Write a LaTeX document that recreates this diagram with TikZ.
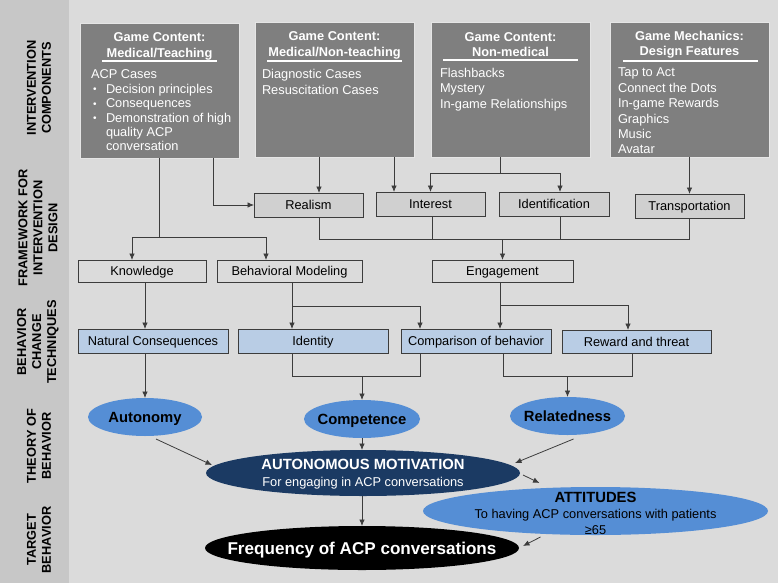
\documentclass[tikz,border=0pt]{standalone}
\usepackage{fontspec}
\setmainfont{Liberation Sans}
\usetikzlibrary{shapes.geometric,arrows.meta}
\definecolor{bgmain}{HTML}{DBDBDB}
\definecolor{bgband}{HTML}{C7C7C7}
\definecolor{boxgray}{HTML}{7F7F7F}
\definecolor{fwfill}{HTML}{D0D0D0}
\definecolor{bctfill}{HTML}{B9CDE5}
\definecolor{lblue}{HTML}{558ED5}
\definecolor{navy}{HTML}{1B3A63}
\definecolor{linec}{HTML}{3C3C3C}
\newcommand\fsz{\fontsize{12.8}{15.4}\selectfont}
\newcommand\smbul{\makebox[13pt][l]{\raisebox{0.6pt}{\fontsize{10}{10}\selectfont\textbullet}}}
\begin{document}
\begin{tikzpicture}[x=1pt,y=-1pt,
  every node/.style={inner sep=0pt, outer sep=0pt},
  topbox/.style={draw=white!90!black, line width=0.8pt, fill=boxgray, minimum width=159pt, minimum height=135pt, anchor=north west},
  toptitle/.style={text=white, font=\fontsize{12.8}{15.5}\selectfont\bfseries, align=center},
  topbody/.style={text=white, font=\fsz, align=left, anchor=north west},
  boxtext/.style={font=\fsz, text height=11.7pt, text depth=2.5pt},
  fwbox/.style={boxtext, draw=linec, line width=0.9pt, fill=fwfill, minimum width=109pt, minimum height=24pt},
  plainbox/.style={boxtext, draw=linec, line width=0.9pt, minimum height=22pt},
  bctbox/.style={boxtext, draw=linec, line width=0.9pt, fill=bctfill, minimum width=150pt, minimum height=24pt},
  ell/.style={ellipse, fill=lblue},
  elltext/.style={font=\fontsize{14.8}{17}\selectfont\bfseries, align=center},
  ellone/.style={font=\fontsize{14.8}{17}\selectfont\bfseries, text height=13.6pt, text depth=3pt},
  conn/.style={draw=linec, line width=0.8pt},
  arr/.style={conn, -{Latex[length=6.5pt,width=5.5pt]}},
  sidelabel/.style={rotate=90, font=\fontsize{12.8}{15}\selectfont\bfseries, align=center},
  ulin/.style={draw=white, line width=1.3pt}
]
\useasboundingbox (0,0) rectangle (778,583);
\fill[bgmain] (0,0) rectangle (778,583);
\fill[bgband] (0,0) rectangle (69,583);

% side labels
\node[sidelabel] (l1) at (39,88) {INTERVENTION\\COMPONENTS};
\node[sidelabel] (l2) at (38,228) {FRAMEWORK FOR\\INTERVENTION\\DESIGN};
\node[sidelabel] (l3) at (38,342) {BEHAVIOR\\CHANGE\\TECHNIQUES};
\node[sidelabel] (l4) at (39,446) {THEORY OF\\BEHAVIOR};
\node[sidelabel] (l5) at (39,540) {TARGET\\BEHAVIOR};

% top boxes
\node[topbox] (b1) at (80,23) {};
\node[topbox] (b2) at (255,22) {};
\node[topbox] (b3) at (431,22) {};
\node[topbox] (b4) at (610,22) {};

\node[toptitle] (t1) at (159.5,46.5) {Game Content:\\Medical/Teaching};
\node[toptitle] (t2) at (334.5,45.5) {Game Content:\\Medical/Non-teaching};
\node[toptitle] (t3) at (510.5,44.5) {Game Content:\\Non-medical};
\node[toptitle] (t4) at (689.5,44.5) {Game Mechanics:\\Design Features};

\draw[ulin] ([shift={(22,38)}]b1.north west) -- ++(115,0);
\draw[ulin] ([shift={(12,39)}]b2.north west) -- ++(135,0);
\draw[ulin] ([shift={(12,38)}]b3.north west) -- ++(135,0);
\draw[ulin] ([shift={(13,39)}]b4.north west) -- ++(135,0);

\node[topbody, font=\fontsize{12.8}{14.4}\selectfont] (b1body) at (91,70) {ACP Cases\\
\hspace*{2pt}\smbul Decision principles\\
\hspace*{2pt}\smbul Consequences\\
\hspace*{2pt}\smbul Demonstration of high\\
\hspace*{15pt}quality ACP\\
\hspace*{15pt}conversation};
\node[topbody, font=\fontsize{12.8}{16}\selectfont] (b2body) at (262,69) {Diagnostic Cases\\Resuscitation Cases};
\node[topbody] (b3body) at (440,68) {Flashbacks\\Mystery\\In-game Relationships};
\node[topbody] (b4body) at (618,68) {Tap to Act\\Connect the Dots\\In-game Rewards\\Graphics\\Music\\Avatar};

% framework boxes
\node[fwbox] (realism) at (308.5,205) {Realism};
\node[fwbox] (interest) at (430.5,204) {Interest};
\node[fwbox, minimum width=110pt] (ident) at (554,204) {Identification};
\node[fwbox] (transport) at (689.5,206) {Transportation};

\node[plainbox, minimum width=128pt] (know) at (142,271) {Knowledge};
\node[plainbox, minimum width=145pt] (bm) at (289.5,271) {Behavioral Modeling};
\node[plainbox, minimum width=141pt] (eng) at (502.5,271) {Engagement};

% behavior change techniques
\node[bctbox] (nc) at (153,341) {Natural Consequences};
\node[bctbox] (identity) at (313,341) {Identity};
\node[bctbox] (comp) at (476,341) {Comparison of behavior};
\node[bctbox, minimum width=149pt, minimum height=23pt] (reward) at (636.5,341.5) {Reward and threat};

% ellipses
\node[ell, minimum width=114pt, minimum height=38pt] (auto) at (145,417) {};
\node[ellone] (autot) at (auto.center) {Autonomy};
\node[ell, minimum width=116pt, minimum height=38pt] (compe) at (362,419) {};
\node[ellone] (compet) at (compe.center) {Competence};
\node[ell, minimum width=115pt, minimum height=38pt] (rel) at (567.5,416) {};
\node[ellone] (relt) at (rel.center) {Relatedness};

\node[ell, fill=navy, minimum width=314pt, minimum height=46pt] (motiv) at (363,473) {};
\node[elltext, text=white] (motivt) at ([yshift=-1pt]motiv.center) {AUTONOMOUS MOTIVATION\\{\fontsize{12.8}{15}\selectfont\mdseries For engaging in ACP conversations}};

\node[ell, minimum width=345pt, minimum height=48pt] (att) at (595.5,511) {};
\node[elltext, font=\fontsize{14.8}{16}\selectfont\bfseries] (attt) at ([yshift=-2.5pt]att.center) {ATTITUDES\\{\fontsize{12.8}{16}\selectfont\mdseries To having ACP conversations with patients}\\{\fontsize{12.8}{16}\selectfont\mdseries ≥65}};

\node[ell, fill=black, minimum width=314pt, minimum height=44pt] (freq) at (362,548) {};
\node[font=\fontsize{17.1}{20}\selectfont\bfseries, text=white, text height=16.2pt, text depth=4pt] (freqt) at (freq.center) {Frequency of ACP conversations};

% helper coordinates
\coordinate (X132) at (132,0);
\coordinate (X145) at (145,0);
\coordinate (X159) at (159,0);
\coordinate (X213) at (213,0);
\coordinate (X266) at (266,0);
\coordinate (X292) at (292,0);
\coordinate (X319) at (319,0);
\coordinate (X362) at (362,0);
\coordinate (X394) at (394,0);
\coordinate (X420) at (420,0);
\coordinate (X432) at (432,0);
\coordinate (X500) at (500,0);
\coordinate (X503) at (503,0);
\coordinate (X560) at (560,0);
\coordinate (X628) at (628,0);
\coordinate (X632) at (632,0);
\coordinate (Y173) at (0,173);
\coordinate (Y237) at (0,237);
\coordinate (Y239) at (0,239);
\coordinate (Y305) at (0,305);
\coordinate (Y306) at (0,306);
\coordinate (Y376) at (0,376);

% connectors: components -> framework
\draw[conn] (b1.south -| X159) -- (X159 |- Y237);
\draw[conn] (X132 |- Y237) -- (X266 |- Y237);
\draw[arr] (X132 |- Y237) -- (know.north -| X132);
\draw[arr] (X266 |- Y237) -- (bm.north -| X266);
\draw[arr] (b1.south -| X213) |- (realism.west);
\draw[arr] (b2.south -| X319) -- (realism.north -| X319);
\draw[arr] (b2.south -| X394) -- (interest.north -| X394);
\draw[conn] (b3.south -| X500) -- (X500 |- Y173);
\draw[arr] (X500 |- Y173) -| (interest.north);
\draw[arr] (X500 |- Y173) -| (ident.north -| X560);
\draw[arr] (b4.south) -- (transport.north);

% framework -> engagement
\draw[conn] (realism.south -| X319) |- (transport.south |- Y239) -- (transport.south);
\draw[conn] (interest.south -| X432) -- (X432 |- Y239);
\draw[conn] (ident.south -| X560) -- (X560 |- Y239);
\draw[arr] (eng.north |- Y239) -- (eng.north);

% framework -> techniques
\draw[arr] (know.south -| X145) -- (nc.north -| X145);
\draw[arr] (bm.south -| X292) -- (identity.north -| X292);
\draw[arr] (X292 |- Y306) -| (comp.north -| X420);
\draw[arr] (eng.south -| X500) -- (comp.north -| X500);
\draw[arr] (X500 |- Y305) -| (reward.north -| X628);

% techniques -> theory
\draw[arr] (nc.south -| auto.north) -- (auto.north);
\draw[conn] (identity.south -| X292) |- (X420 |- Y376) -- (comp.south -| X420);
\draw[arr] (compe.north |- Y376) -- (compe.north);
\draw[conn] (comp.south -| X503) |- (X632 |- Y376) -- (reward.south -| X632);
\draw[arr] (rel.north |- Y376) -- (rel.north);

% theory -> motivation
\draw[arr] ([xshift=11pt,yshift=-3pt]auto.south) -- ([xshift=6pt,yshift=8pt]motiv.west);
\draw[arr] (compe.south) -- (motiv.north -| compe.south);
\draw[arr] ([xshift=6pt,yshift=-4pt]rel.south) -- ([xshift=-5pt,yshift=10pt]motiv.east);
\draw[arr] ([xshift=3pt,yshift=-2pt]motiv.east) -- ([xshift=-56pt,yshift=4pt]att.north);
\draw[arr] (motiv.south -| X362) -- (freq.north -| X362);
\draw[arr] ([xshift=-55pt,yshift=-2pt]att.south) -- ([xshift=4pt,yshift=2pt]freq.east);
\end{tikzpicture}
\end{document}
